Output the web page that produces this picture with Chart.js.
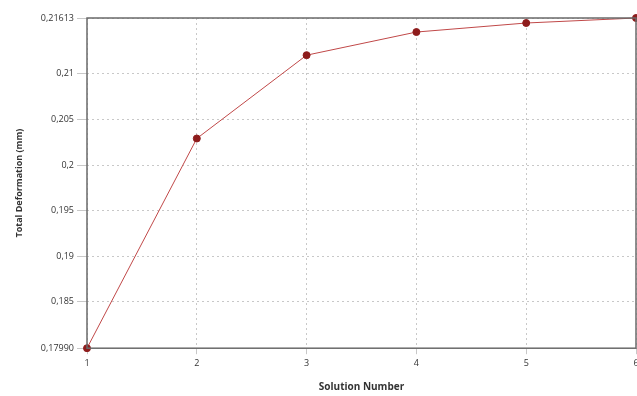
<!DOCTYPE html>
<html>
<head>
<meta charset="utf-8">
<script src="https://cdn.jsdelivr.net/npm/chart.js@4.4.1/dist/chart.umd.min.js"></script>
<style>
  html, body { margin: 0; padding: 0; background: #fff; overflow: hidden; }
  #wrap { width: 641px; height: 396px; }
</style>
</head>
<body>
<div id="wrap"><canvas id="c"></canvas></div>
<script>
// Solution number vs total deformation
const solutions = [1, 2, 3, 4, 5, 6];
const deformation = [0.17990, 0.20291, 0.21205, 0.21459, 0.21558, 0.21613];
const yTicks = [0.17990, 0.185, 0.19, 0.195, 0.2, 0.205, 0.21, 0.21613];
const yLabels = ['0,17990', '0,185', '0,19', '0,195', '0,2', '0,205', '0,21', '0,21613'];

const frame = {
  id: 'frame',
  afterDraw(chart) {
    const a = chart.chartArea, ctx = chart.ctx;
    ctx.save();
    ctx.strokeStyle = '#6a6a6a';
    ctx.lineWidth = 1.5;
    ctx.strokeRect(a.left, a.top, a.right - a.left, a.bottom - a.top);
    ctx.restore();
  }
};

const tickFont = { family: 'Open Sans', size: 9 };

new Chart(document.getElementById('c').getContext('2d'), {
  type: 'line',
  data: { datasets: [{
    data: solutions.map((s, i) => ({ x: s, y: deformation[i] })),
    borderColor: '#c04848', borderWidth: 1, tension: 0,
    pointRadius: 3.5, pointBackgroundColor: '#8e1c1c', pointBorderColor: '#8e1c1c',
    clip: false
  }]},
  plugins: [frame],
  options: {
    responsive: true, maintainAspectRatio: false, animation: false,
    layout: { padding: { top: 18, right: 0, bottom: 3, left: 10 } },
    plugins: { legend: { display: false }, tooltip: { enabled: false } },
    scales: {
      x: {
        type: 'linear', min: 1, max: 6,
        afterBuildTicks: s => { s.ticks = solutions.map(v => ({ value: v })); },
        afterFit: s => { s.paddingRight = 0; s.paddingLeft = 0; },
        grid: { color: '#c8c8c8', tickLength: 6 },
        border: { display: false, dash: [2, 3] },
        ticks: { color: '#333', font: tickFont, padding: 4, callback: v => String(v) },
        title: { display: true, text: 'Solution Number', color: '#333',
                 font: { family: 'Open Sans', size: 10, weight: 'bold' }, padding: { top: 8, bottom: 0 } }
      },
      y: {
        min: 0.17990, max: 0.21613,
        afterBuildTicks: s => { s.ticks = yTicks.map(v => ({ value: v })); },
        afterFit: s => { s.width = 77; },
        grid: { color: '#c8c8c8', tickLength: 10 },
        border: { display: false, dash: [2, 3] },
        ticks: { color: '#333', font: tickFont, padding: 3,
                 callback: v => yLabels[yTicks.findIndex(t => Math.abs(t - v) < 1e-7)] },
        title: { display: true, text: 'Total Deformation (mm)', color: '#333',
                 font: { family: 'Open Sans', size: 9, weight: 'bold' }, padding: { bottom: 4 } }
      }
    }
  }
});
</script>
</body>
</html>
